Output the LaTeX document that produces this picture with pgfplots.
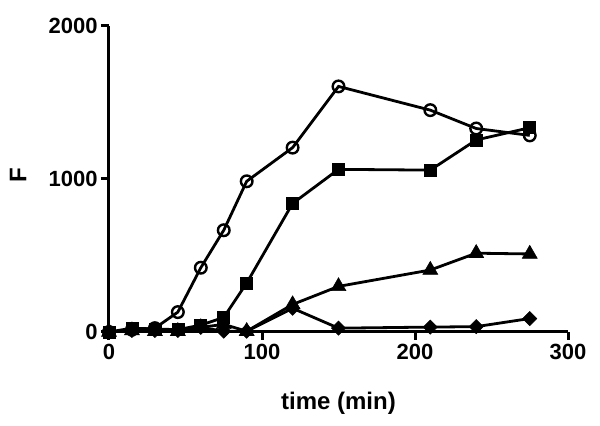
\documentclass[border=0pt]{standalone}
\usepackage{fontspec}
\setmainfont{Liberation Sans}
\usepackage{pgfplots}
\pgfplotsset{compat=1.18}
\begin{document}
\begin{tikzpicture}
\useasboundingbox (-54.5pt,-47pt) rectangle (245.5pt,166pt);
\begin{axis}[
  at={(0,0)}, anchor=south west,
  scale only axis, width=229.5pt, height=153pt,
  xmin=0, xmax=300, ymin=0, ymax=2000,
  axis x line*=bottom, axis y line*=left,
  axis line style={line width=1.5pt, -},
  xtick={0,100,200,300}, ytick={0,1000,2000},
  tick align=outside, major tick length=4pt,
  tick style={line width=1.5pt, black},
  /pgf/number format/assume math mode=true,
  /pgf/number format/1000 sep={},
  ticklabel style={font=\fontsize{11}{13}\selectfont\bfseries},
  xticklabel style={inner sep=2pt},
  yticklabel style={inner sep=1.5pt},
  xlabel={time (min)}, ylabel={F},
  label style={font=\fontsize{12}{14}\selectfont\bfseries},
  xlabel style={at={(axis description cs:0.5,-0.232)}, anchor=center},
  ylabel style={at={(axis description cs:-0.198,0.513)}, anchor=center, rotate=0},
  clip=false,
]
\addplot[black, line width=1.4pt, mark=o, mark size=2.9pt, mark options={line width=1.2pt}] coordinates {
(0,0) (15,15) (30,25) (45,130) (60,420) (75,665) (90,985) (120,1205) (150,1605) (210,1450) (240,1330) (275,1285)};
\addplot[black, line width=1.4pt, mark=square*, mark size=3pt, mark options={line width=0.3pt}] coordinates {
(0,0) (15,25) (30,20) (45,15) (60,45) (75,95) (90,320) (120,840) (150,1063) (210,1058) (240,1255) (275,1335)};
\addplot[black, line width=1.4pt, mark=triangle*, mark size=4.3pt, mark options={line width=0.3pt}] coordinates {
(0,0) (15,10) (30,5) (45,5) (60,30) (75,50) (90,5) (120,180) (150,298) (210,405) (240,515) (275,510)};
\addplot[black, line width=1.4pt, mark=square*, mark size=2.5pt, mark options={line width=0.3pt, rotate=45}] coordinates {
(0,0) (15,10) (30,10) (45,10) (60,30) (75,5) (90,5) (120,155) (150,25) (210,32) (240,35) (275,88)};
\end{axis}
\end{tikzpicture}
\end{document}
